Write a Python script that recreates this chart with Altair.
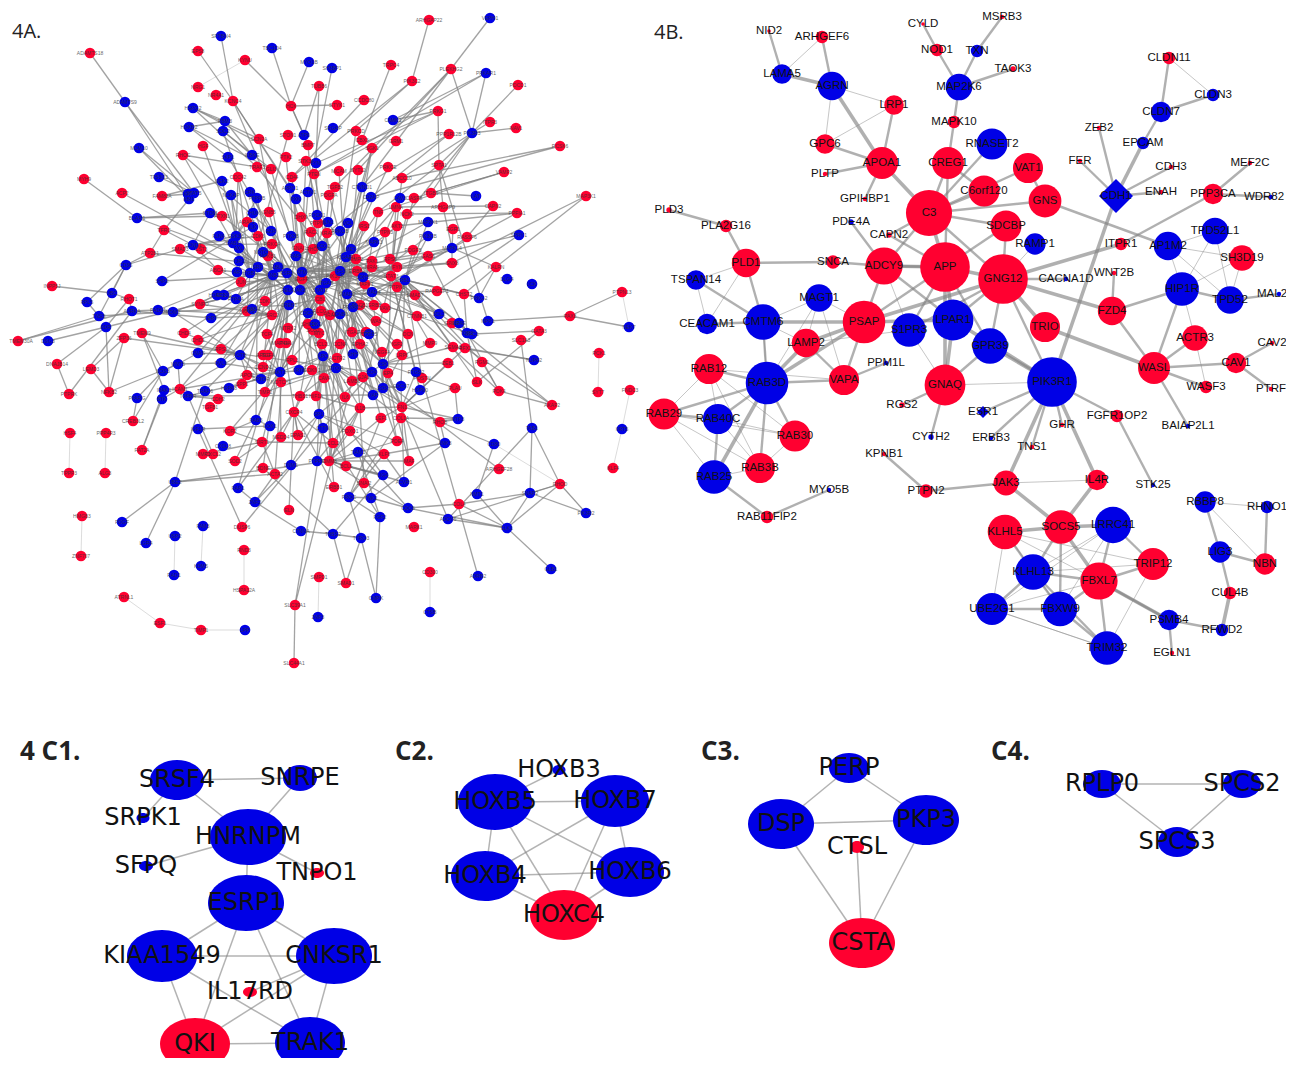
import math
import sys

import altair as alt
import pandas as pd

A_RED = {
    "ARHGAP22": (429, 20), "ADAMTS18": (90, 53), "EPS8": (198, 51), "KYNU": (245, 60), "TRPC4": (391, 65),
    "PLEKHG2": (451, 69), "PIK3C2": (412, 81), "PDCD1": (518, 85), "TUBB6": (319, 86), "NRG1": (198, 87),
    "NR4A1": (216, 95), "KCNC4": (233, 101), "HCK": (291, 106), "STYK1": (337, 105), "CCDC80": (364, 100),
    "PRKG1": (438, 111), "ITPR3": (490, 122), "PRKCD": (356, 131), "PPP1R12B": (449, 134), "NAV1": (516, 128),
    "SCN2A": (259, 139), "STON1": (288, 135), "CBX3": (362, 140), "GRM1": (396, 141), "PCSK6": (560, 146),
    "HGF": (203, 146), "BMP7": (308, 145), "SGK1": (372, 148), "RHOC": (183, 155), "PTK2": (286, 157),
    "STK38": (306, 161), "SPTA1": (439, 165), "TRAF3": (257, 167), "GLI3": (271, 169), "MCAM": (339, 171),
    "SYTL2": (358, 170), "PRKCE": (388, 167), "VAMP2": (504, 172), "MYH9": (84, 179), "CDC42": (238, 177),
    "CD44": (292, 177), "PTEN": (314, 174), "ABCC10": (402, 178), "ITGB5": (431, 193), "TGFB2": (335, 187),
    "PDGFA": (329, 195), "CASP8": (414, 198), "ARHGAP9": (443, 207), "LMNA": (396, 207), "TNF": (378, 212),
    "NCK2": (407, 214), "FAM83A": (162, 196), "ACP2": (122, 193), "ATXN1": (222, 216), "GNB5": (269, 212),
    "DHX9": (301, 217), "PTPN1": (318, 223), "IRS1": (364, 226), "AKT3": (397, 226), "EGR1": (453, 229),
    "TFRC": (164, 230), "ARAP1": (247, 222), "CDK6": (258, 236), "RAC2": (311, 232), "KRAS": (327, 233),
    "PTPN3": (385, 232), "RASSF6": (467, 237), "SMAD3": (180, 249), "CST3": (201, 249), "ATP2B1": (150, 253),
    "NFKB1": (268, 256), "PRKCA": (272, 244), "GNAI1": (299, 248), "RHOA": (313, 249), "MMP2": (356, 259),
    "PDGFB": (413, 250), "GAS6": (428, 256), "PAK1": (372, 261), "RPS6": (390, 259), "SNX8": (452, 263),
    "ABCA1": (218, 270), "EGFR": (302, 279), "ERBB2": (357, 271), "NRAS": (372, 267), "FYN": (397, 267),
    "PIK3CA": (335, 276), "STAT3": (391, 276), "JUN": (241, 282), "MAPK1": (365, 284), "PTPN6": (397, 287),
    "SMAD7": (415, 295), "RAPGEF1": (437, 291), "CHST2": (464, 294), "KALRN": (496, 267), "PPFIA1": (517, 213),
    "MAP3K1": (586, 196), "CAPN2": (493, 206), "INPP5J": (52, 286), "RHOT1": (129, 299), "CDK1": (265, 301),
    "CBL": (320, 299), "SYNPO": (200, 304), "PLCB1": (360, 305), "GRB2": (374, 305), "VAV3": (385, 308),
    "AKAP1": (247, 311), "PLCG1": (321, 311), "HRAS": (330, 315), "SRC2": (272, 315), "CTNNB1": (417, 316),
    "WAS": (376, 321), "NTRK2": (288, 328), "SHC1": (308, 324), "SOS1": (313, 330), "MYC": (319, 333),
    "ITGA2": (352, 332), "FGFR1": (366, 332), "GRIN2": (452, 323), "TMEM9": (142, 333), "CHD4": (184, 333),
    "TCF4": (267, 334), "DCN": (408, 334), "ZFP36": (124, 338), "TMEM30A": (18, 341), "DNAJB14": (57, 364),
    "LEMD3": (91, 369), "PTPRK": (69, 394), "NFKB2": (109, 392), "PCK1": (599, 353), "SYT7": (598, 392),
    "FNDC3": (630, 390), "AKAP2": (552, 405), "PDK4": (499, 391), "SLK": (477, 382), "PGM1": (482, 362),
    "PAX8": (570, 316), "PTPN13": (622, 292), "GATA3": (539, 331), "SLC1A3": (521, 340), "KLF4": (613, 468),
    "ARHGEF28": (499, 469), "RHOD": (560, 484), "MARK1": (414, 527), "CD300": (430, 572), "SMAD1": (346, 583),
    "DUSP6": (242, 527), "RND3": (244, 550), "HSPA12A": (244, 590), "SMPD1": (319, 577), "SLC39A1": (295, 605),
    "SLC44A1": (294, 663), "TIMP1": (201, 630), "ESF1": (160, 623), "ATRNL1": (124, 597), "HMGB3": (82, 516),
    "ZNF707": (81, 556), "TPPP3": (69, 473), "HSF4": (70, 433), "PPP4R3": (106, 433), "ALG3": (105, 473),
    "FAT2A": (142, 450), "CREB3L2": (133, 421), "MAP4K": (280, 343), "ITGAV": (286, 343), "BCL2L": (322, 344),
    "CCNA": (340, 344), "EPHA2": (360, 344), "IGF2": (397, 344), "MMP9": (430, 343), "SEMA3": (453, 347),
    "RFX3": (465, 348), "ZEB1": (448, 363), "CHD1": (198, 340), "RPS3": (221, 349), "AREG": (263, 355),
    "TGFA": (268, 355), "RPL3": (292, 360), "ACTR2": (337, 358), "VEGFA": (382, 352), "LRP6": (402, 355),
    "CCND3": (263, 367), "CDKN1": (312, 370), "EP4": (388, 373), "POSTN": (422, 378), "APOE": (247, 375),
    "CAV4": (324, 378), "LAMB1": (352, 381), "GJA1": (363, 377), "SPP1": (242, 384), "NOTCH2": (281, 382),
    "ICAM1": (180, 389), "TIMP2": (265, 392), "PLAU": (455, 388), "THBS1": (300, 396), "HIF1A": (316, 396),
    "IL6": (345, 397), "CDH2": (218, 399), "TGFB1": (210, 407), "IL1B": (360, 408), "FN1": (402, 407),
    "CXCR4": (294, 412), "LEF1": (381, 418), "COL1A": (401, 418), "RHOB": (440, 422), "KDR2": (230, 431),
    "FOXO1": (350, 431), "NEDD4": (281, 437), "EPAS1": (298, 435), "SIRT1": (262, 442), "CCL2": (333, 443),
    "PDE4": (397, 441), "MMP1": (203, 454), "CXCL2": (213, 454), "SOD2": (235, 461), "TIMM8": (329, 461),
    "BCL6": (346, 466), "MAF": (409, 461), "BDNF": (263, 468), "ACTA2": (275, 474), "SNAI2": (364, 483),
    "KLF6": (384, 454), "ERBB1": (334, 487), "COL4": (459, 504), "ELN": (289, 510),
}
A_BLUE = {
    "VEPH1": (490, 18), "SPTBN4": (221, 36), "TBC1D4": (272, 48), "MYO1B": (309, 62), "SH3BP1": (332, 68),
    "PRKAR1": (486, 73), "ADAMTS9": (125, 102), "HSPG2": (193, 108), "RBM3": (225, 121), "CAMK1": (393, 120),
    "HOXB2": (189, 127), "SDC2": (223, 131), "SRGAP": (333, 128), "ATP6": (304, 135), "PIK3R3": (472, 133),
    "MCM10": (139, 148), "SKP1": (228, 157), "IKBKE": (252, 155), "LYN": (316, 163), "TP53I11": (159, 177),
    "NEK2": (222, 181), "ARPC1": (290, 188), "ACTN1": (308, 192), "CTNND1": (362, 187), "CD2AP": (371, 197),
    "CAV3": (400, 198), "KIT": (188, 194), "STAT5": (194, 193), "ABI1": (189, 199), "NCKAP": (231, 195),
    "CRK": (250, 192), "PTPRB": (257, 198), "PXN": (296, 199), "LAT": (476, 196), "BCAR1": (137, 218),
    "STOM": (210, 213), "CHUK": (253, 213), "ROCK1": (317, 215), "TLN1": (328, 222), "VCL": (348, 223),
    "MAP2K1": (428, 222), "ILK": (253, 227), "FLNA": (219, 236), "GSK3B": (236, 236), "EZR": (271, 231),
    "PTK2B": (291, 236), "PRKCB": (340, 231), "PIK3CB": (428, 236), "SPRY1": (519, 235), "MAPK3": (374, 242),
    "GAB1": (233, 243), "AXL": (239, 248), "CCND1": (193, 245), "NOTCH": (263, 252), "PLCG2": (322, 246),
    "RAF1": (296, 256), "MET": (351, 249), "IQGAP1": (346, 257), "MAPK14": (452, 248), "TJP1": (239, 261),
    "SRF": (258, 267), "ABL1": (278, 267), "AR": (237, 272), "ITGB1": (250, 273), "GNB1": (273, 275),
    "ESR2": (287, 273), "ATM": (302, 272), "TP53": (340, 271), "CDH5": (363, 277), "RB1": (405, 280),
    "ITGA5": (326, 283), "SHP2": (162, 281), "RELA": (288, 290), "JAK2": (300, 290), "STAT1": (320, 290),
    "HDAC1": (217, 295), "EP300": (224, 295), "SMAD2": (347, 294), "SMAD4": (372, 292), "PTP4A": (236, 299),
    "CREB1": (289, 305), "PRKACA": (353, 307), "ERBB4": (252, 309), "RAD51": (158, 310), "MDM2": (173, 312),
    "AURKA": (132, 311), "CDC20": (308, 313), "CCNB1": (340, 314), "BCL2": (439, 314), "TERT": (211, 318),
    "CDK2": (315, 324), "CDC25": (369, 334), "EIF4E": (459, 323), "TOP2": (467, 333), "DLG4": (507, 279),
    "LCK": (532, 284), "PRKG2": (479, 298), "MPP1": (488, 321), "GPC1": (472, 334), "NEK7": (629, 327),
    "UBC": (112, 293), "RPL5": (87, 302), "TNS3": (99, 316), "KDR": (106, 327), "CD36": (126, 265),
    "DSG3": (48, 341), "GNAS": (198, 353), "ACTB": (240, 355), "APC": (323, 356), "SHH": (353, 354),
    "DVL1": (221, 363), "WNT5": (178, 364), "NOS3": (163, 371), "AKT1": (280, 372), "KRT8": (299, 370),
    "MTOR": (336, 368), "CSK": (383, 364), "CD4": (372, 372), "PTGS2": (416, 372), "RPTOR": (261, 379),
    "HSPA8": (229, 388), "TRAF6": (205, 391), "IRAK1": (164, 390), "BTK": (162, 399), "PPARG": (137, 398),
    "TGFBR": (188, 396), "FOS": (383, 388), "CDC37": (401, 386), "HSP90": (420, 390), "XIAP": (373, 395),
    "SP1": (319, 414), "NTF3": (458, 419), "RAB5": (256, 420), "DOK1": (270, 426), "CTTN": (323, 428),
    "IGF1R": (198, 429), "ANK3": (445, 443), "CXCL8": (223, 446), "TIAM1": (358, 452), "LIG4": (383, 475),
    "DNM1": (291, 465), "PTPRC": (317, 461), "ACVR1": (404, 482), "UBE2": (175, 482), "RAP1": (238, 488),
    "PROC": (349, 497), "TNK2": (371, 498), "ZNF2": (255, 502), "CDC6": (408, 508), "NUP62": (534, 360),
    "KRT5": (622, 429), "TAB1": (532, 428), "CD80": (494, 444), "NMT1": (477, 494), "SNAP2": (530, 493),
    "PIK3R2": (586, 513), "ELK1": (507, 528), "GLB1": (551, 569), "ADCY6": (448, 519), "FGF2": (380, 517),
    "ADRB2": (478, 576), "CTSB": (430, 612), "CMPK": (376, 598), "TYRO3": (361, 538), "THBS2": (333, 534),
    "CTNNA": (301, 531), "ZNF3": (318, 617), "LPP": (245, 630), "FAM3": (203, 526), "KDM5": (201, 566),
    "USP2": (175, 536), "RAD1": (174, 575), "PDGF": (122, 522), "LGR4": (146, 543),
}
# hub -> neighbours
A_LINKS = {
    "ADAMTS9": "ADAMTS18 STAT5 ABI1", "KCNC4": "EPS8 SPTBN4 PXN ARPC1 PTK2B", "HCK": "KYNU TBC1D4 MYO1B STYK1 ATP6 BMP7",
    "PIK3C2": "ARHGAP22 PRKCD CD44", "PLEKHG2": "VEPH1 PIK3R3 TGFB2 CTNND1 SYTL2", "PIK3R3": "PDCD1 NAV1 ITPR3 PRKAR1 SPTA1 ABCC10 ITGB5 NCK2",
    "TUBB6": "ATP6 LYN", "SH3BP1": "ACTN1", "CCDC80": "CD44", "TRPC4": "CBX3", "PRKAR1": "CAMK1 PTEN", "PRKG1": "CAMK1 SPTA1 PTEN LYN",
    "PPP1R12B": "CTNND1 KRAS", "PCSK6": "ABCC10 CD2AP", "VAMP2": "ITGB5 CASP8 TNF", "MAP3K1": "SNX8 KALRN", "CAPN2": "LMNA RASSF6",
    "PPFIA1": "NCK2 MAPK14 AKT3", "SPRY1": "RAPGEF1 GAS6", "KALRN": "CHST2 PRKG2", "LAT": "ITGB5", "SPTA1": "MPP1 ARHGAP9 TNF",
    "RBM3": "HOXB2 HSPG2 SDC2 IKBKE", "HSPG2": "TRAF3 SCN2A PTK2", "HOXB2": "SKP1 GLI3", "SDC2": "GLI3 IKBKE CDK6", "RHOC": "TRAF3 EZR",
    "MCM10": "STAT5 ABI1", "TP53I11": "STAT5", "MYH9": "BCAR1", "ACP2": "GNB1", "BCAR1": "STOM ATXN1 ESR2", "FAM83A": "KIT NEK2",
    "ATP2B1": "TFRC CD36 TP53", "TFRC": "STAT5", "CD36": "UBC RPL5 TNS3 SMAD3", "SMAD3": "JUN", "INPP5J": "UBC",
    "UBC": "RHOT1", "TNS3": "RPL5 CREB1", "AURKA": "RHOT1 TERT RAD51", "KDR": "RHOT1", "TMEM30A": "TNS3 AURKA", "DSG3": "KDR",
    "DNAJB14": "KDR PTPRK", "LEMD3": "ZFP36", "PTPRK": "AURKA", "NFKB2": "ZFP36 LEMD3 WNT5 KDR", "NOS3": "PPARG WNT5 TMEM9",
    "CREB3L2": "PPARG NOS3", "FAT2A": "IRAK1 BTK", "IRAK1": "ICAM1 TMEM9", "ICAM1": "TGFBR AKT1 WNT5", "WNT5": "GNAS DVL1",
    "TGFBR": "CDH2 RPTOR XIAP CXCL2", "UBE2": "PDGF LGR4 TIMM8 ACTA2 TRAF6", "DOK1": "RAB5 IGF1R", "RAB5": "CDK6 KDR2",
    "ELK1": "GLB1 SNAP2 RHOD COL4 ADCY6 NMT1", "SNAP2": "PIK3R2 RHOD COL4 TAB1", "TAB1": "SLC1A3 RHOD ADCY6", "RHOD": "PIK3R2 ADCY6",
    "ADRB2": "POSTN", "NMT1": "CD80", "CD80": "RHOB", "CTTN": "CD4 DUSP6", "DUSP6": "IGF1R", "SLC39A1": "SLC44A1 LAMB1 CTTN",
    "TYRO3": "THBS2 SMAD1 CMPK PROC", "THBS2": "SMAD1 LIG4 BDNF CTNNA", "FGF2": "PROC CMPK CCL2 TIAM1", "PROC": "TNK2 LEF1 COL1A",
    "TNK2": "ANK3 CDC6", "CDC6": "COL4 ELK1 TIAM1 SNAI2", "ADCY6": "CSK", "PAX8": "MPP1 PTPN13 NEK7", "GPC1": "GATA3",
    "KLF6": "ACVR1 PROC", "ACVR1": "CDC37", "LIG4": "TIMM8 BCL6 FOXO1", "RAP1": "MAP4K CXCR4", "ZNF2": "RAP1 ACTA2 CTNNA DNM1",
    "PDK4": "PGM1 TOP2 CTNNB1", "SLK": "GATA3 TOP2", "AKAP2": "PDK4 GRIN2 RFX3", "ARHGEF28": "CD4", "TOP2": "EIF4E CHST2 GAS6",
    "NTF3": "FN1 PLAU RHOB COL1A", "ANK3": "RHOB COL1A KLF6", "CD4": "ZFP36", "NUP62": "SEMA3 RFX3",
    # dense middle
    "EGFR": "GLI3 CD44 PTK2B DHX9 ROCK1 SKP1 ATXN1 ITGB1 TJP1 TERT JUN CDK1 SYNPO RAC2 KRAS STAT1 JAK2 ESR2 TP53 CDK2 SP1 NOTCH ABCA1 GPC1 KDR FN1 SNX8 FYN",
    "TP53": "PRKCE MAP2K1 LMNA IRS1 AKT3 VCL MMP2 NRAS ATM GNAI1 RHOA PXN TRAF3 SMAD2 RELA CBL HRAS SHH APC TIMM8 BCL2 CTNNB1 RB1",
    "STAT1": "LYN BMP7 PDGFA TGFB2 ARPC1 KRAS MET FYN AKT1 NTRK2 MTOR XIAP THBS1 SP1 PLCG1 ITGA2 RAF1 CDC20 TCF4 DCN",
    "JAK2": "STK38 PTK2 CD44 ACTN1 RHOA EZR ILK NOTCH SHC1 VCL CAV4 KRT8 IL6 RPL3 MYC NFKB1 ABL1 CRK",
    "RELA": "SCN2A GNB5 FLNA GAB1 AXL SRF AR ERBB4 SRC2 MAP4K ITGAV AREG TGFA CDKN1 TIMP2 BDNF ACTA2 RPTOR RPS3",
    "ATM": "PTPN1 TLN1 GNAI1 PIK3CA ITGA5 PTPN3 MAPK3 PDGFB GAS6 SNX8 CBL SOS1 BCL2L CCNA EPHA2 ACTR2 CDC25",
    "PIK3CA": "PTEN STK38 PRKCD SGK1 TNF ERBB2 CDH5 PAK1 STAT3 PTPN6 RPS6 GRB2 VAV3 WAS BCL2 FGFR1 CSK VEGFA LAMB1 CD4 GJA1",
    "SMAD2": "SYTL2 MCAM SGK1 PRKCB IRS1 GAS6 RB1 FYN SMAD7 RAPGEF1 CTNNB1 DCN IGF2 LRP6 XIAP PDE4 HIF1A LEF1",
    "STAT3": "ABCC10 CASP8 LMNA NCK2 AKT3 PTPN3 FYN SMAD7 GRIN2 MMP9 HSP90 RFX3 PTGS2 EP4 IL1B",
    "GNB1": "CRK PTPRB ARAP1 CDK6 NOTCH ITGB1 HDAC1 EP300 PTP4A ACTB GNAS CHD1 CHD4 MDM2 SHP2 DVL1 CCND3 SPP1 ICAM1 EPAS1",
    "APC": "CDK2 SOS1 MYC SHC1 AKT1 KRT8 HIF1A CAV4 CXCR4 FOXO1 SP1 BCL6 ERBB1 CCL2 IL6 FN1",
    "CSK": "FGFR1 ITGA2 CDC25 EPHA2 IGF2 MMP9 ZEB1 SEMA3 GJA1 FOS PLAU PDE4 MAF PDGFB RB1",
    "MTOR": "PLCB1 PRKACA CCNB1 HRAS PLCG1 NTRK2 NOTCH2 THBS1 TIMP2 COL1A RHOB BCL6 IL1B IL6 LAMB1",
    "AKT1": "CREB1 TCF4 CDC20 HRAS AREG RPL3 CDKN1 DVL1 ACTB APOE HSPA8 SOD2 NEDD4 KDR2 SIRT1 NOTCH2",
    "MAPK14": "SNX8 RASSF6 EGR1 ARHGAP9 KALRN RPS6 CDH5 PRKACA SMAD4",
    "MAPK1": "TNF TLN1 SMAD4 PLCB1 GRB2 VAV3 ERBB2 MET IQGAP1 PRKCB PIK3CB LMNA",
    "IQGAP1": "PDGFA CD2AP CTNND1 SGK1 MAPK3 NRAS STAT3 CCNB1 IL1B BCL2",
    "RB1": "PIK3CB MAP2K1 EIF4E GPC1 CHST2 PRKG2 SEMA3 PGM1 SLK CDC37 POSTN",
    "ACTB": "TMEM9 CHD4 GNAS RPS3 APOE RPTOR TRAF6 MDM2 SRC2 CCND3 BTK",
    "SRC2": "CHD1 AKAP1 DVL1 TERT RAD51 HDAC1 SYNPO CDK1 CREB1 NFKB1",
    "CCND1": "STOM CST3 SMAD3 GSK3B PRKCA CDK6 TFRC ABCA1",
    "GSK3B": "CDC42 NEK2 NCKAP PTPRB CHUK ILK JUN SHP2 TJP1 SRF",
    "ITGB1": "CST3 SYNPO HGF RHOC CDC42 NCKAP STON1 AKAP1 PTP4A RAD51",
    "SP1": "GJA1 CTTN EPAS1 PDE4 TIMM8 KLF6 PTPRC DNM1",
    "FN1": "IL1B EP4 HSP90 PTGS2 LEF1 MAF RFX3 ZEB1 PLAU",
    "TIMM8": "BCL6 PTPRC IL1B LEF1 SNAI2 KLF6 FOXO1 CCL2 MAF PDE4 ACVR1",
    "IL1B": "PTPRC SNAI2 FOXO1 HIF1A",
    "FOS": "SMAD4 VEGFA LRP6 CDC37 XIAP CD4",
    "CXCR4": "EPAS1 NEDD4 ELN ERBB1 CCL2 THBS1",
    "SIRT1": "CCL2 MMP1 SOD2 ACTA2 KDR2",
    "RAF1": "ESR2 ATM JAK2 RELA GNAI1 RHOA PLCG2 ITGA5 CBL EGFR TP53",
    "CBL": "STAT1 JAK2 RELA CREB1 CDC20 PLCG1 HRAS ITGA5 PIK3CA",
    "ITGA5": "TP53 STAT1 JAK2 CDC20 SHC1 CDK2 MAPK1 KRAS RAC2",
}
A_LIGHT = [("KYNU", "NRG1"), ("HSF4", "TPPP3"), ("PPP4R3", "ALG3"), ("HMGB3", "ZNF707"), ("FAM3", "KDM5"), ("USP2", "RAD1"),
           ("RND3", "HSPA12A"), ("CD300", "CTSB"), ("SMPD1", "ZNF3"), ("PCK1", "SYT7"), ("FNDC3", "KRT5"), ("KRT5", "KLF4"),
           ("ATRNL1", "ESF1"), ("ESF1", "TIMP1"), ("TIMP1", "LPP"), ("PTPN13", "NEK7"), ("RHOD", "CD80"), ("PIK3R2", "RHOD")]

B_RED = {
    "NID2": (769, 31, 2), "ARHGEF6": (822, 37, 7), "LRP1": (894, 105, 11), "GPC6": (825, 144, 11), "APOA1": (882, 163, 18),
    "PLTP": (825, 174, 2.5), "GPIHBP1": (865, 199, 2.5), "CREG1": (948, 163, 18), "MAPK10": (954, 122, 7), "NOD1": (937, 50, 7),
    "CYLD": (923, 24, 2), "C3": (929, 213, 26), "APP": (945, 267, 28), "ADCY9": (884, 266, 21), "CAPN2": (889, 235, 3),
    "PLD3": (669, 210, 3), "PLA2G16": (726, 226, 7), "PLD1": (746, 263, 16), "SNCA": (833, 262, 7.5), "PSAP": (864, 322, 24),
    "LAMP2": (806, 343, 16), "RAB12": (709, 369, 17), "VAPA": (844, 380, 17), "GNAQ": (945, 385, 23), "RGS2": (902, 405, 3),
    "KPNB1": (884, 454, 2.5), "PTPN2": (926, 491, 7.5), "RAB29": (664, 414, 17.5), "RAB30": (795, 436, 17.5), "RAB3B": (760, 468, 17),
    "RAB11FIP2": (767, 517, 7), "MSRB3": (1002, 17, 2.5), "TAOK3": (1013, 69, 3), "CLDN11": (1169, 58, 7), "ZEB2": (1099, 128, 2.5),
    "FER": (1080, 161, 2.5), "CDH3": (1171, 167, 2.5), "MEF2C": (1250, 163, 2.5), "ENAH": (1161, 192, 2.5), "PPP3CA": (1213, 194, 11.5),
    "VAT1": (1028, 168, 17), "C6orf120": (984, 191, 17.5), "GNS": (1045, 201, 18.5), "SDCBP": (1006, 226, 17.5), "GNG12": (1003, 279, 28),
    "ITPR1": (1121, 244, 7), "WNT2B": (1114, 273, 2.5), "FZD4": (1112, 311, 16), "SH3D19": (1242, 258, 14.5), "TRIO": (1045, 327, 17),
    "WASL": (1154, 368, 18), "ACTR3": (1195, 338, 14.5), "CAV1": (1236, 363, 11.5), "CAV2": (1272, 343, 2.5), "PTRF": (1271, 389, 2.5),
    "WASF3": (1206, 387, 7), "FGFR1OP2": (1117, 416, 7), "GHR": (1062, 425, 2.5), "TNS1": (1032, 447, 2.5), "JAK3": (1006, 483, 14),
    "IL4R": (1097, 480, 11.5), "SOCS5": (1061, 527, 19), "KLHL5": (1005, 532, 19.5), "TRIP12": (1153, 564, 18), "NBN": (1265, 564, 12),
    "FBXL7": (1099, 581, 21), "CUL4B": (1230, 593, 7), "EGLN1": (1172, 653, 2.5),
}
B_BLUE = {
    "LAMA5": (782, 74, 11), "AGRN": (832, 86, 16), "MAP2K6": (959, 87, 15), "PDE4A": (851, 222, 3), "TSPAN14": (696, 280, 11),
    "CEACAM1": (707, 324, 11.5), "CMTM6": (763, 322, 20), "MAGT1": (819, 298, 15.5), "S1PR3": (909, 330, 19), "LPAR1": (953, 320, 23),
    "RAB3D": (767, 383, 24), "PPM1L": (886, 363, 2.5), "CYTH2": (931, 437, 3), "RAB40C": (718, 419, 17), "RAB25": (714, 477, 19),
    "MYO5B": (829, 490, 2.5), "TXN": (977, 51, 7), "CLDN3": (1213, 95, 7), "CLDN7": (1161, 112, 11.5), "EPCAM": (1143, 143, 7),
    "WDR82": (1271, 197, 2.5), "RNASET2": (992, 144, 17.5), "RAMP1": (1035, 244, 12), "CACNA1D": (1066, 279, 2.5), "AP1M2": (1168, 246, 16),
    "TPD52L1": (1215, 231, 15), "HIP1R": (1182, 289, 19), "TPD52": (1230, 300, 15.5), "MAL2": (1279, 294, 2.5), "GPR39": (990, 346, 20),
    "PIK3R1": (1052, 382, 28), "BAIAP2L1": (1188, 426, 2.5), "ERBB3": (991, 438, 2.5), "STK25": (1153, 485, 2.5), "RBBP8": (1205, 502, 12),
    "RHNO1": (1267, 507, 7), "LRRC41": (1113, 525, 20.5), "LIG3": (1220, 552, 12), "KLHL13": (1033, 572, 20), "UBE2G1": (992, 609, 18),
    "FBXW9": (1060, 609, 19.5), "PSMB4": (1169, 620, 11.5), "RFWD2": (1222, 630, 7), "TRIM32": (1107, 648, 19),
}
B_DIAMONDS = {"CDH1": (1116, 196, 17), "ESR1": (983, 412, 6)}
# hub -> neighbours, by line weight
B_HEAVY = {
    "AGRN": "APOA1 LAMA5", "APOA1": "C3", "C3": "APP", "APP": "GNG12 LPAR1 ADCY9 GNAQ", "PSAP": "LAMP2 RAB3D CMTM6 LPAR1 GNG12",
    "RAB3D": "LAMP2 RAB25", "CDH1": "PIK3R1 EPCAM", "PIK3R1": "JAK3 IL4R GPR39 LPAR1", "GNAQ": "LPAR1", "GNG12": "FZD4 ITPR1 TRIO",
    "TRIO": "WASL", "SOCS5": "KLHL5 LRRC41 FBXL7 JAK3 IL4R", "FBXL7": "PSMB4", "RFWD2": "CUL4B",
}
B_MID = {
    "NID2": "LAMA5", "ARHGEF6": "AGRN", "LRP1": "APOA1", "GPC6": "APOA1", "PLTP": "APOA1", "GPIHBP1": "APOA1", "CYLD": "NOD1",
    "MAP2K6": "NOD1 TXN TAOK3 MAPK10", "MSRB3": "TXN", "MAPK10": "CREG1", "CREG1": "C3 APP C6orf120", "C3": "C6orf120 GNS SDCBP VAT1 RNASET2 ADCY9 GNG12",
    "CAPN2": "APP C3", "PDE4A": "ADCY9", "SNCA": "PLD1 ADCY9", "PLD3": "PLA2G16", "PLA2G16": "PLD1", "PLD1": "CMTM6", "TSPAN14": "CMTM6",
    "CEACAM1": "CMTM6", "ADCY9": "PSAP APP LPAR1", "APP": "PSAP S1PR3 GPR39 SDCBP", "GNG12": "S1PR3 LPAR1 GPR39 PIK3R1 CACNA1D SDCBP", "ITPR1": "PPP3CA",
    "WNT2B": "FZD4", "FZD4": "HIP1R WASL", "GNS": "AP1M2 VAT1", "FER": "CDH1", "ZEB2": "CDH1", "CDH3": "CDH1", "ENAH": "CDH1",
    "CLDN7": "EPCAM CLDN11 CLDN3", "PPP3CA": "MEF2C WDR82", "HIP1R": "TPD52 WASL", "TPD52": "MAL2", "WASL": "ACTR3 WASF3 CAV1 BAIAP2L1",
    "CAV1": "CAV2 PTRF", "PIK3R1": "TNS1 GHR FGFR1OP2 ESR1 ERBB3", "FGFR1OP2": "STK25", "GNAQ": "RGS2 CYTH2 GPR39", "VAPA": "PPM1L RAB3D LAMP2 PSAP",
    "RAB3D": "RAB12 RAB29 RAB40C RAB30 RAB3B CMTM6", "RAB29": "RAB40C", "RAB25": "RAB11FIP2 RAB40C", "MYO5B": "RAB11FIP2", "KPNB1": "PTPN2",
    "PTPN2": "JAK3", "SOCS5": "KLHL13 FBXW9", "PSMB4": "RFWD2 EGLN1 FBXL7", "CUL4B": "LIG3", "LIG3": "RBBP8 NBN", "RHNO1": "NBN", "TRIM32": "FBXW9 FBXL7 KLHL13",
    "UBE2G1": "FBXW9 KLHL13", "FBXW9": "KLHL13 FBXL7", "KLHL5": "KLHL13", "TRIP12": "LRRC41 FBXL7", "FBXL7": "KLHL13 LRRC41",
}
B_THIN = {
    "ARHGEF6": "LAMA5", "AGRN": "LRP1 GPC6", "LRP1": "GPC6", "PLD1": "TSPAN14 CEACAM1", "TSPAN14": "CEACAM1", "CMTM6": "MAGT1 LAMP2 RAB3D",
    "MAGT1": "PSAP LAMP2 VAPA RAB3D", "ADCY9": "S1PR3", "S1PR3": "GNAQ", "GNG12": "RAMP1", "CLDN11": "CLDN3", "AP1M2": "TPD52L1 SH3D19 HIP1R TPD52",
    "TPD52L1": "TPD52 HIP1R", "SH3D19": "HIP1R TPD52", "HIP1R": "ACTR3", "ACTR3": "WASF3", "GNAQ": "PIK3R1", "RAB12": "RAB29 RAB40C RAB30 RAB3B",
    "RAB29": "RAB30 RAB3B RAB25", "RAB40C": "RAB30 RAB3B", "RAB3B": "RAB30 RAB25", "JAK3": "IL4R", "RBBP8": "RHNO1 NBN",
    "KLHL5": "FBXL7 TRIP12 FBXW9 UBE2G1", "KLHL13": "LRRC41 TRIP12", "UBE2G1": "LRRC41 TRIM32 FBXL7", "LRRC41": "FBXW9", "TRIM32": "TRIP12 UBE2G1",
    "LAMP2": "S1PR3", "VAPA": "RAB12",
}

C_RED = {
    "TNPO1": (317, 873, 7, 5), "IL17RD": (250, 992, 7, 5), "QKI": (195, 1044, 35, 26), "HOXC4": (564, 915, 34, 25),
    "CTSL": (857, 847, 7, 6), "CSTA": (862, 943, 33, 25),
}
C_BLUE = {
    "SRSF4": (177, 780, 27, 20), "SNRPE": (300, 778, 17, 13), "SRPK1": (143, 818, 6.5, 5), "HNRNPM": (248, 837, 38, 28),
    "SFPQ": (146, 866, 7, 5), "ESRP1": (246, 903, 38, 28), "KIAA1549": (162, 956, 35, 26), "CNKSR1": (334, 956, 38, 28),
    "TRAK1": (310, 1043, 35, 26), "HOXB3": (559, 770, 6.5, 5), "HOXB5": (495, 802, 37, 28), "HOXB7": (615, 801, 34, 26),
    "HOXB4": (485, 876, 34, 25), "HOXB6": (630, 872, 34, 25), "PERP": (849, 768, 20, 15), "DSP": (781, 824, 33, 25),
    "PKP3": (926, 820, 33, 25), "RPLP0": (1102, 784, 19, 14), "SPCS2": (1242, 784, 19, 14), "SPCS3": (1177, 842, 19, 15),
}
C_LINKS = {
    "SRSF4": "SNRPE SRPK1 HNRNPM", "HNRNPM": "SNRPE SFPQ TNPO1 ESRP1", "ESRP1": "KIAA1549 CNKSR1 QKI TRAK1",
    "KIAA1549": "CNKSR1 QKI TRAK1", "CNKSR1": "QKI TRAK1 IL17RD", "QKI": "TRAK1",
    "HOXB5": "HOXB3 HOXB7 HOXB4 HOXB6 HOXC4", "HOXB7": "HOXB4 HOXB6 HOXC4", "HOXB4": "HOXB6 HOXC4", "HOXB6": "HOXC4",
    "PERP": "DSP PKP3", "DSP": "PKP3 CSTA", "PKP3": "CSTA", "CTSL": "CSTA", "RPLP0": "SPCS2 SPCS3", "SPCS2": "SPCS3",
}
# labels that would run off the page
LABEL_SHIFT = {"MAL2": -7, "WDR82": -7, "TMEM30A": 3}
PANEL_TITLES = ["4A.", "4B.", "4 C1.", "C2.", "C3.", "C4."]
TITLE_X = [12, 654, 20, 395, 701, 991]
TITLE_Y = [32, 33, 752, 752, 752, 752]
TITLE_SIZE = [20, 20, 26, 26, 26, 26]

ELLIPSE = "M-1,0A1,{0:.3f} 0 1,1 1,0A1,{0:.3f} 0 1,1 -1,0Z"

rows = []
for name, (x, y) in A_RED.items():
    rows.append(dict(panel="A", name=name, x=x, y=y, group="up", shape="circle", area=math.pi * 6 ** 2))
for name, (x, y) in A_BLUE.items():
    rows.append(dict(panel="A", name=name, x=x, y=y, group="down", shape="circle", area=math.pi * 6 ** 2))
for group, table in (("up", B_RED), ("down", B_BLUE)):
    for name, (x, y, r) in table.items():
        rows.append(dict(panel="B", name=name, x=x, y=y, group=group, shape="circle", area=math.pi * r ** 2))
for name, (x, y, r) in B_DIAMONDS.items():
    rows.append(dict(panel="B", name=name, x=x, y=y, group="down", shape="diamond", area=(2 * r) ** 2))
for group, table in (("up", C_RED), ("down", C_BLUE)):
    for name, (x, y, rx, ry) in table.items():
        rows.append(dict(panel="C", name=name, x=x, y=y, group=group, shape=ELLIPSE.format(ry / rx), area=(2 * rx) ** 2))
nodes = pd.DataFrame(rows)
nodes["lx"] = nodes.x + nodes.name.map(LABEL_SHIFT).fillna(0)


def add_edges(out, panel, links, width, opacity):
    where = {n.name: (n.x, n.y) for n in nodes[nodes.panel == panel].itertuples()}
    for a, others in links:
        for b in others.split():
            if a not in where or b not in where:
                print("missing", a, b, file=sys.stderr)
                continue
            out.append(dict(x=where[a][0], y=where[a][1], x2=where[b][0], y2=where[b][1], w=width, op=opacity))


edge_rows = []
add_edges(edge_rows, "A", A_LINKS.items(), 1.3, 0.72)
add_edges(edge_rows, "A", A_LIGHT, 0.8, 0.35)
add_edges(edge_rows, "B", B_HEAVY.items(), 3.6, 0.62)
add_edges(edge_rows, "B", B_MID.items(), 2.4, 0.62)
add_edges(edge_rows, "B", B_THIN.items(), 1.0, 0.45)
add_edges(edge_rows, "C", C_LINKS.items(), 1.5, 0.6)
edges = pd.DataFrame(edge_rows)

titles = pd.DataFrame({"text": PANEL_TITLES, "x": TITLE_X, "y": TITLE_Y, "size": TITLE_SIZE})

# the page adds 8px all round, so the plot area runs from picture pixel 8 to 1286 / 1058
x_scale = alt.Scale(domain=[8, 1286], nice=False, zero=False)
y_scale = alt.Scale(domain=[1058, 8], nice=False, zero=False)
x_enc = alt.X("x:Q", scale=x_scale, axis=None)
y_enc = alt.Y("y:Q", scale=y_scale, axis=None)
lx_enc = alt.X("lx:Q", scale=x_scale, axis=None)

edge_layer = alt.Chart(edges).mark_rule(color="#808080").encode(
    x=x_enc, y=y_enc, x2="x2:Q", y2="y2:Q",
    size=alt.Size("w:Q", scale=None),
    opacity=alt.Opacity("op:Q", scale=None),
)

node_layer = alt.Chart(nodes).mark_point(filled=True, opacity=1, strokeWidth=0).encode(
    x=x_enc, y=y_enc,
    size=alt.Size("area:Q", scale=None),
    shape=alt.Shape("shape:N", scale=None),
    color=alt.Color("group:N", scale=alt.Scale(domain=["up", "down"], range=["#ff0030", "#0000e6"]), legend=None),
)

label_a = alt.Chart(nodes[nodes.panel == "A"]).mark_text(font="Liberation Sans", fontSize=5, color="#333333", opacity=0.75).encode(
    x=lx_enc, y=y_enc, text="name:N")
label_b = alt.Chart(nodes[nodes.panel == "B"]).mark_text(font="Liberation Sans", fontSize=11.5, color="#111111").encode(
    x=lx_enc, y=y_enc, text="name:N")
label_c = alt.Chart(nodes[nodes.panel == "C"]).mark_text(font="DejaVu Sans", fontSize=24, color="#111111").encode(
    x=lx_enc, y=y_enc, text="name:N")

title_a = alt.Chart(titles[titles["size"] < 23]).mark_text(font="Open Sans", align="left", color="#222222").encode(
    x=x_enc, y=y_enc, text="text:N", size=alt.Size("size:Q", scale=None))
title_c = alt.Chart(titles[titles["size"] > 23]).mark_text(font="Open Sans", align="left", color="#222222", fontWeight="bold").encode(
    x=x_enc, y=y_enc, text="text:N", size=alt.Size("size:Q", scale=None))

chart = alt.layer(edge_layer, node_layer, label_a, label_b, label_c, title_a, title_c).properties(
    width=1278, height=1050, padding=0,
    autosize=alt.AutoSizeParams(type="none"),
    background="white",
).configure_view(stroke=None)

chart.save("out.html", embed_options={"renderer": "svg", "actions": False})
